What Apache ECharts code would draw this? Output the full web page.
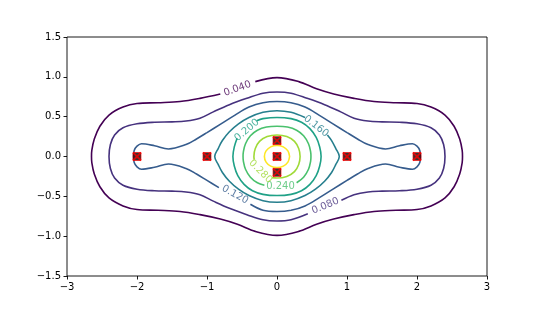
<!DOCTYPE html>
<html>
<head>
<meta charset="utf-8">
<script src="https://cdn.jsdelivr.net/npm/echarts@6/dist/echarts.min.js"></script>
<style>html,body{margin:0;padding:0;background:#fff}#c{width:540px;height:309px}</style>
</head>
<body>
<div id="c"></div>
<script>
// ---- data ----
const xTicks = [-3, -2, -1, 0, 1, 2, 3];
const yTicks = [-1.5, -1.0, -0.5, 0.0, 0.5, 1.0, 1.5];

const pointsX = [-2, -1, 0, 0, 0, 1, 2];
const pointsY = [0, 0, 0.2, 0, -0.2, 0, 0];

const levelValues = [0.04, 0.08, 0.12, 0.16, 0.20, 0.24, 0.28, 0.32];
const levelColors = ['#440154', '#46327e', '#365c8d', '#277f8e', '#1fa187', '#4ac16d', '#a0da39', '#fde725'];

const contour040 = [[-0.81,0.785],[-1.1,0.73],[-1.385,0.69],[-1.7,0.675],[-2.0,0.665],[-2.2,0.62],[-2.4,0.52],[-2.53,0.38],[-2.61,0.22],[-2.645,0.08],[-2.65,0],[-2.645,-0.08],[-2.61,-0.22],[-2.53,-0.38],[-2.4,-0.52],[-2.2,-0.62],[-2.0,-0.665],[-1.7,-0.675],[-1.385,-0.69],[-1.1,-0.73],[-0.81,-0.785],[-0.565,-0.85],[-0.31,-0.94],[0,-0.99],[0.31,-0.94],[0.565,-0.85],[0.81,-0.785],[1.1,-0.73],[1.385,-0.69],[1.7,-0.675],[2.0,-0.665],[2.2,-0.62],[2.4,-0.52],[2.53,-0.38],[2.61,-0.22],[2.645,-0.08],[2.65,0],[2.645,0.08],[2.61,0.22],[2.53,0.38],[2.4,0.52],[2.2,0.62],[2.0,0.665],[1.7,0.675],[1.385,0.69],[1.1,0.73],[0.81,0.785],[0.565,0.85],[0.31,0.94],[0,0.99],[-0.31,0.94]];

const contour080 = [[0.92,-0.55],[1.1,-0.48],[1.3,-0.445],[1.5,-0.435],[1.75,-0.43],[2.0,-0.41],[2.2,-0.36],[2.32,-0.27],[2.38,-0.15],[2.40,0],[2.38,0.15],[2.32,0.27],[2.2,0.36],[2.0,0.41],[1.75,0.43],[1.5,0.435],[1.3,0.445],[1.1,0.48],[0.91,0.56],[0.68,0.65],[0.43,0.73],[0.2,0.795],[0,0.81],[-0.2,0.795],[-0.43,0.73],[-0.68,0.65],[-0.91,0.56],[-1.1,0.48],[-1.3,0.445],[-1.5,0.435],[-1.75,0.43],[-2.0,0.41],[-2.2,0.36],[-2.32,0.27],[-2.38,0.15],[-2.40,0],[-2.38,-0.15],[-2.32,-0.27],[-2.2,-0.36],[-2.0,-0.41],[-1.75,-0.43],[-1.5,-0.435],[-1.3,-0.445],[-1.1,-0.48],[-0.91,-0.56],[-0.68,-0.65],[-0.43,-0.73],[-0.2,-0.795],[0,-0.81],[0.2,-0.795],[0.44,-0.72]];

const contour120 = [[-0.38,-0.60],[-0.2,-0.675],[0,-0.69],[0.2,-0.675],[0.4,-0.62],[0.6,-0.52],[0.8,-0.41],[1.0,-0.30],[1.15,-0.22],[1.3,-0.15],[1.55,-0.095],[1.75,-0.135],[1.935,-0.16],[2.0,-0.13],[2.04,-0.075],[2.05,0],[2.04,0.075],[2.0,0.13],[1.935,0.16],[1.75,0.135],[1.55,0.095],[1.3,0.15],[1.15,0.22],[1.0,0.30],[0.8,0.41],[0.6,0.52],[0.4,0.62],[0.2,0.675],[0,0.69],[-0.2,0.675],[-0.4,0.62],[-0.6,0.52],[-0.8,0.41],[-1.0,0.30],[-1.15,0.22],[-1.3,0.15],[-1.55,0.095],[-1.75,0.135],[-1.935,0.16],[-2.0,0.13],[-2.04,0.075],[-2.05,0],[-2.04,-0.075],[-2.0,-0.13],[-1.935,-0.16],[-1.75,-0.135],[-1.55,-0.095],[-1.3,-0.15],[-1.15,-0.22],[-1.0,-0.30],[-0.83,-0.39]];

const contour160 = [[0.40,0.49],[0.2,0.555],[0,0.575],[-0.2,0.555],[-0.4,0.49],[-0.55,0.41],[-0.68,0.31],[-0.78,0.20],[-0.84,0.10],[-0.89,0],[-0.84,-0.10],[-0.78,-0.20],[-0.68,-0.31],[-0.55,-0.41],[-0.4,-0.49],[-0.2,-0.555],[0,-0.575],[0.2,-0.555],[0.4,-0.49],[0.55,-0.41],[0.68,-0.31],[0.78,-0.20],[0.84,-0.10],[0.89,0],[0.84,0.10],[0.78,0.20],[0.72,0.27]];

const contour200 = [[-0.57,0.23],[-0.61,0.12],[-0.63,0],[-0.61,-0.12],[-0.56,-0.24],[-0.47,-0.35],[-0.35,-0.43],[-0.2,-0.475],[0,-0.49],[0.2,-0.475],[0.35,-0.43],[0.47,-0.35],[0.56,-0.24],[0.61,-0.12],[0.63,0],[0.61,0.12],[0.56,0.24],[0.47,0.35],[0.35,0.43],[0.2,0.475],[0,0.49],[-0.2,0.475],[-0.29,0.45]];

const contour240 = [[0.28,-0.33],[0.38,-0.26],[0.45,-0.16],[0.48,-0.06],[0.485,0],[0.48,0.06],[0.45,0.16],[0.38,0.26],[0.28,0.33],[0.15,0.37],[0,0.38],[-0.15,0.37],[-0.28,0.33],[-0.38,0.26],[-0.45,0.16],[-0.48,0.06],[-0.485,0],[-0.48,-0.06],[-0.45,-0.16],[-0.38,-0.26],[-0.28,-0.33],[-0.18,-0.36]];

const contour280 = [[-0.07,-0.265],[0,-0.27],[0.14,-0.25],[0.25,-0.19],[0.31,-0.1],[0.33,0],[0.31,0.1],[0.25,0.19],[0.14,0.25],[0,0.27],[-0.14,0.25],[-0.25,0.19],[-0.31,0.1],[-0.33,0],[-0.325,-0.04]];

const contour320 = [[0.18,0],[0.156,0.07],[0.09,0.121],[0,0.14],[-0.09,0.121],[-0.156,0.07],[-0.18,0],[-0.156,-0.07],[-0.09,-0.121],[0,-0.14],[0.09,-0.121],[0.156,-0.07],[0.18,0]];

const labelTexts  = ['0.040', '0.080', '0.120', '0.160', '0.200', '0.240', '0.280'];
const labelX      = [-0.565, 0.69, -0.60, 0.56, -0.43, 0.05, -0.235];
const labelY      = [0.85, -0.62, -0.48, 0.38, 0.33, -0.375, -0.19];
const labelRotate = [20, 23, -29, -38, 40, 0, -45];

// ---- chart ----
const contours = [contour040, contour080, contour120, contour160, contour200, contour240, contour280, contour320];
const FONT = 'DejaVu Sans';
const series = [];
contours.forEach((pts, i) => {
  series.push({
    type: 'line', data: pts, symbol: 'none', smooth: 0.35, clip: true,
    lineStyle: { color: levelColors[i], width: 1.6 }, silent: true, z: 2
  });
});
labelTexts.forEach((t, i) => {
  const ci = levelValues.findIndex(v => Math.abs(v - parseFloat(t)) < 1e-9);
  series.push({
    type: 'scatter', symbolSize: 1, itemStyle: { color: 'rgba(0,0,0,0)' }, silent: true, z: 3,
    data: [{ value: [labelX[i], labelY[i]] }],
    label: { show: true, position: 'inside', formatter: t, rotate: labelRotate[i],
      color: levelColors[ci], fontFamily: FONT, fontSize: 10 }
  });
});
const pts = pointsX.map((x, i) => [x, pointsY[i]]);
series.push({
  type: 'scatter', data: pts, symbol: 'rect', symbolSize: 8, z: 4, silent: true,
  itemStyle: { color: '#000', borderColor: '#ff0000', borderWidth: 0.8 }
});
series.push({
  type: 'scatter', data: pts, symbol: 'path://M0,0L10,10M10,0L0,10', symbolSize: 8, z: 5, silent: true,
  itemStyle: { color: 'none', borderColor: '#ff0000', borderWidth: 1.8 }
});

const chart = echarts.init(document.getElementById('c'), null, { renderer: 'canvas' });
chart.setOption({
  animation: false,
  backgroundColor: '#fff',
  grid: { left: 67, top: 37, width: 420, height: 239, show: true, borderColor: '#000', borderWidth: 0.9, backgroundColor: 'transparent' },
  xAxis: {
    type: 'value', min: -3, max: 3, interval: 1, position: 'bottom',
    axisLine: { show: false, onZero: false }, splitLine: { show: false },
    axisTick: { show: true, inside: false, length: 3.5, lineStyle: { color: '#000', width: 0.9 } },
    axisLabel: { color: '#000', fontFamily: FONT, fontSize: 10, margin: 6,
      formatter: v => xTicks.includes(v) ? String(v).replace('-', '\u2212') : '' }
  },
  yAxis: {
    type: 'value', min: -1.5, max: 1.5, interval: 0.5, position: 'left',
    axisLine: { show: false, onZero: false }, splitLine: { show: false },
    axisTick: { show: true, inside: false, length: 3.5, lineStyle: { color: '#000', width: 0.9 } },
    axisLabel: { color: '#000', fontFamily: FONT, fontSize: 10, margin: 6,
      formatter: v => yTicks.some(t => Math.abs(t - v) < 1e-9) ? v.toFixed(1).replace('-', '\u2212') : '' }
  },
  series: series
});
</script>
</body>
</html>
